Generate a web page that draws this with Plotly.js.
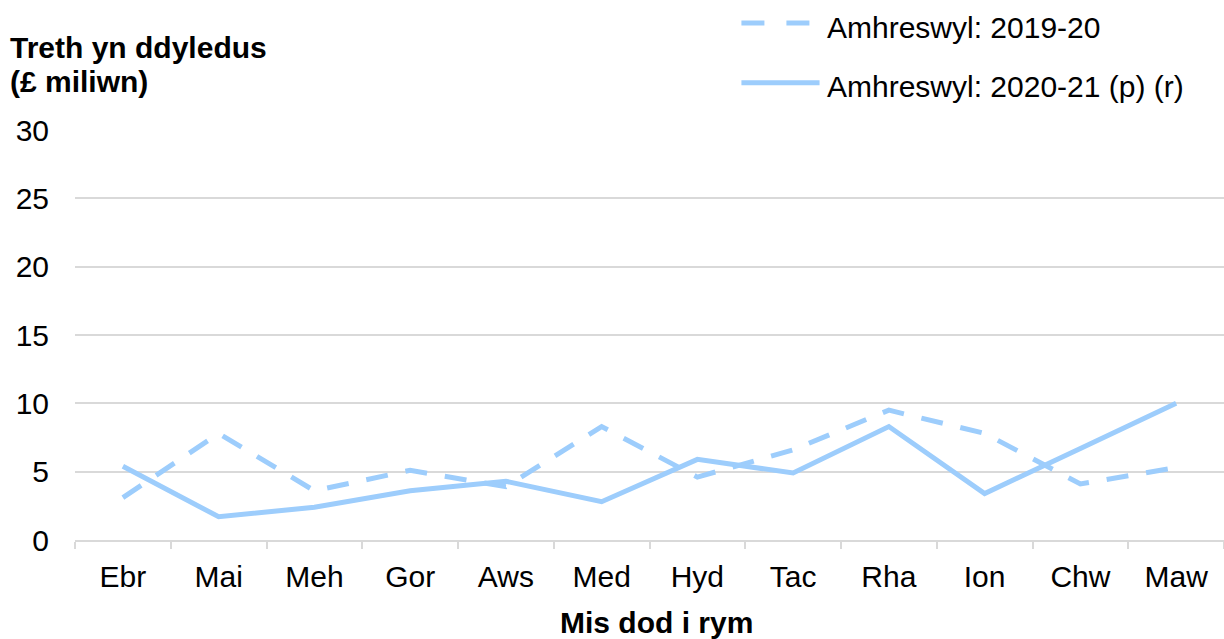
<!DOCTYPE html>
<html>
<head>
<meta charset="utf-8">
<script src="https://cdn.plot.ly/plotly-3.0.1.min.js"></script>
<style>html,body{margin:0;padding:0;background:#fff}#chart{width:1224px;height:639px}</style>
</head>
<body>
<div id="chart"></div>
<script>
const months = ["Ebr","Mai","Meh","Gor","Aws","Med","Hyd","Tac","Rha","Ion","Chw","Maw"];
const series2019 = [3.1, 7.8, 3.6, 5.1, 3.9, 8.3, 4.6, 6.6, 9.5, 7.8, 4.1, 5.3];
const series2020 = [5.4, 1.7, 2.4, 3.6, 4.3, 2.8, 5.9, 4.9, 8.3, 3.4, 6.7, 10.0];
const legendNames = ["Amhreswyl: 2019-20", "Amhreswyl: 2020-21 (p) (r)"];
const yTitleLines = ["Treth yn ddyledus", "(£ miliwn)"];
const xTitle = "Mis dod i rym";
const yTicks = [0, 5, 10, 15, 20, 25, 30];

const col = "#9dcdfc";
const font = "Liberation Sans, Arial, sans-serif";
const fs = 30;

const traces = [
  {x: months, y: series2019, type: "scatter", mode: "lines", name: legendNames[0],
   line: {color: col, width: 5, dash: "22px,18px"}, showlegend: false},
  {x: months, y: series2020, type: "scatter", mode: "lines", name: legendNames[1],
   line: {color: col, width: 5}, showlegend: false}
];

const layout = {
  width: 1224, height: 639,
  margin: {l: 75, r: 0, t: 130, b: 99},
  paper_bgcolor: "#fff", plot_bgcolor: "#fff",
  font: {family: font, size: fs, color: "#000"},
  xaxis: {
    type: "category", range: [-0.5, 11.5], tickson: "boundaries", ticks: "outside", ticklen: 7,
    tickcolor: "#d9d9d9", tickwidth: 2, showline: true, linecolor: "#d9d9d9", linewidth: 2,
    showgrid: false, tickfont: {size: fs}, ticklabelstandoff: 9
  },
  yaxis: {
    range: [0, 30], tickvals: yTicks, showgrid: true, gridcolor: "#d9d9d9",
    gridwidth: 2, zeroline: false, showline: false, ticks: "", tickfont: {size: fs},
    ticklabelstandoff: 25
  },
  annotations: [
    {xref: "paper", yref: "paper", x: -0.058, y: (540 - 47) / 410, xanchor: "left", yanchor: "middle",
     text: "<b>" + yTitleLines[0] + "</b>", showarrow: false, align: "left", font: {size: fs}},
    {xref: "paper", yref: "paper", x: -0.058, y: (540 - 82) / 410, xanchor: "left", yanchor: "middle",
     text: "<b>" + yTitleLines[1] + "</b>", showarrow: false, align: "left", font: {size: fs}},
    {xref: "paper", yref: "paper", x: 0.5057, y: -0.2, xanchor: "center", yanchor: "middle",
     text: "<b>" + xTitle + "</b>", showarrow: false, font: {size: fs}},
    {xref: "paper", yref: "paper", x: 0.6525, y: 1.249, xanchor: "left", yanchor: "middle",
     text: legendNames[0], showarrow: false, font: {size: fs}},
    {xref: "paper", yref: "paper", x: 0.6525, y: 1.107, xanchor: "left", yanchor: "middle",
     text: legendNames[1], showarrow: false, font: {size: fs}}
  ],
  shapes: [
    {type: "line", xref: "paper", yref: "paper", x0: 0.580, x1: 0.641, y0: 1.261, y1: 1.261,
     line: {color: col, width: 5, dash: "23px,22px"}},
    {type: "line", xref: "paper", yref: "paper", x0: 0.580, x1: 0.648, y0: 1.115, y1: 1.115,
     line: {color: col, width: 5}}
  ]
};

Plotly.newPlot("chart", traces, layout, {displayModeBar: false, staticPlot: true});
</script>
</body>
</html>
